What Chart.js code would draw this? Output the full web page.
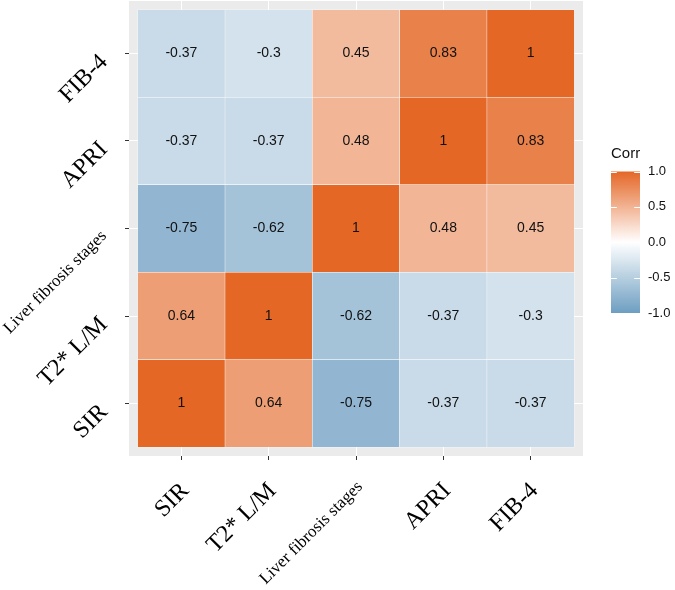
<!DOCTYPE html>
<html>
<head>
<meta charset="utf-8">
<script src="https://cdn.jsdelivr.net/npm/chart.js@4.4.1/dist/chart.umd.min.js"></script>
<style>
  html, body { margin: 0; padding: 0; background: #fff; }
  #wrap { width: 675px; height: 590px; }
</style>
</head>
<body>
<div id="wrap"><canvas id="grafico" width="675" height="590"></canvas></div>
<script>
// Variables in matrix order: rows bottom-to-top, columns left-to-right.
const variables = ["SIR", "T2* L/M", "Liver fibrosis stages", "APRI", "FIB-4"];

// One correlation row per variable (same order as columns).
const corrSIR   = [1, 0.64, -0.75, -0.37, -0.37];
const corrT2    = [0.64, 1, -0.62, -0.37, -0.3];
const corrLiver = [-0.75, -0.62, 1, 0.48, 0.45];
const corrAPRI  = [-0.37, -0.37, 0.48, 1, 0.83];
const corrFIB4  = [-0.37, -0.3, 0.45, 0.83, 1];
const corrRows  = [corrSIR, corrT2, corrLiver, corrAPRI, corrFIB4];

// Colour bar breaks
const legendBreaks = [1, 0.5, 0, -0.5, -1];
const legendLabels = ["1.0", "0.5", "0.0", "-0.5", "-1.0"];

const COLOR_LOW = [109, 158, 193], COLOR_MID = [255, 255, 255], COLOR_HIGH = [228, 103, 38];

// Diverging scale: white at 0, blue at -1, orange at +1.
function colorFor(v) {
  const end = v >= 0 ? COLOR_HIGH : COLOR_LOW;
  const t = Math.min(1, Math.abs(v));
  const c = COLOR_MID.map((m, k) => Math.round(m + (end[k] - m) * t));
  return `rgb(${c[0]},${c[1]},${c[2]})`;
}

// ---------- plugins ----------

const panelFondo = {
  id: "panelFondo",
  beforeDraw(chart) {
    const { ctx, chartArea: a } = chart;
    ctx.save();
    ctx.fillStyle = "#EBEBEB";
    ctx.fillRect(a.left, a.top, a.right - a.left, a.bottom - a.top);
    ctx.restore();
  },
};

const etiquetasCeldas = {
  id: "etiquetasCeldas",
  afterDatasetsDraw(chart) {
    const ctx = chart.ctx;
    ctx.save();
    ctx.font = '14px "Liberation Sans", Arial, sans-serif';
    ctx.fillStyle = "#111";
    ctx.textAlign = "center";
    ctx.textBaseline = "middle";
    chart.data.datasets.forEach((ds, i) => {
      chart.getDatasetMeta(i).data.forEach((el, j) => {
        const p = el.getCenterPoint();
        ctx.fillText(String(ds.data[j].v), p.x, p.y);
      });
    });
    ctx.restore();
  },
};

const barraColor = {
  id: "barraColor",
  afterDraw(chart) {
    const ctx = chart.ctx;
    const x0 = 611, w = 29, top = 171.5, bottom = 313;
    const yFor = (v) => top + (1 - v) / 2 * (bottom - top);
    ctx.save();
    const grad = ctx.createLinearGradient(0, top, 0, bottom);
    for (let k = 0; k <= 40; k++) {
      grad.addColorStop(k / 40, colorFor(1 - k / 20));
    }
    ctx.fillStyle = grad;
    ctx.fillRect(x0, top, w, bottom - top);

    ctx.strokeStyle = "#fff";
    ctx.lineWidth = 1;
    legendBreaks.forEach((v) => {
      const y = Math.round(yFor(v)) + 0.5;
      ctx.beginPath();
      ctx.moveTo(x0, y); ctx.lineTo(x0 + w / 5, y);
      ctx.moveTo(x0 + w - w / 5, y); ctx.lineTo(x0 + w, y);
      ctx.stroke();
    });

    ctx.fillStyle = "#111";
    ctx.textBaseline = "middle";
    ctx.textAlign = "left";
    ctx.font = '13px "Liberation Sans", Arial, sans-serif';
    legendBreaks.forEach((v, k) => ctx.fillText(legendLabels[k], 648, yFor(v)));
    ctx.font = '15px "Liberation Sans", Arial, sans-serif';
    ctx.fillText("Corr", 611, 154);
    ctx.restore();
  },
};

// ---------- chart ----------

const tickFont = (c) => ({
  family: '"Liberation Serif", "Times New Roman", serif',
  size: c.tick && variables[c.tick.value] === "Liver fibrosis stages" ? 17 : 24,
});

const sinPadding = (s) => { s.paddingTop = 0; s.paddingBottom = 0; s.paddingLeft = 0; s.paddingRight = 0; };

const ejeComun = {
  type: "linear",
  min: -0.6,
  max: 4.6,
  offset: false,
  afterBuildTicks: (s) => { s.ticks = variables.map((_, i) => ({ value: i })); },
  grid: { offset: false, color: "#FFFFFF", lineWidth: 1, tickColor: "#333333", tickLength: 4 },
  border: { display: false },
};

const datasets = corrRows.map((row, i) => ({
  label: variables[i],
  data: row.map((v, j) => ({ x: j, y: [i - 0.5, i + 0.5], v })),
  backgroundColor: row.map(colorFor),
  borderColor: "#FFFFFF",
  borderWidth: 0.5,
  borderSkipped: false,
  barPercentage: 1,
  categoryPercentage: 1,
  grouped: false,
}));

new Chart(document.getElementById("grafico"), {
  type: "bar",
  data: { datasets },
  options: {
    responsive: false,
    animation: false,
    layout: { padding: { top: 1, right: 92, left: 0, bottom: 0 } },
    plugins: { legend: { display: false }, tooltip: { enabled: false } },
    scales: {
      x: {
        ...ejeComun,
        afterFit: (s) => { s.height = 134; sinPadding(s); },
        ticks: {
          autoSkip: false, minRotation: 45, maxRotation: 45, padding: 17, labelOffset: 4,
          color: "#000", font: tickFont, callback: (v) => variables[v],
        },
      },
      y: {
        ...ejeComun,
        afterFit: (s) => { s.width = 129; sinPadding(s); },
        ticks: {
          autoSkip: false, minRotation: 45, maxRotation: 45, padding: 21, labelOffset: 5,
          color: "#000", font: tickFont, callback: (v) => variables[v],
        },
      },
    },
  },
  plugins: [panelFondo, etiquetasCeldas, barraColor],
});
</script>
</body>
</html>
